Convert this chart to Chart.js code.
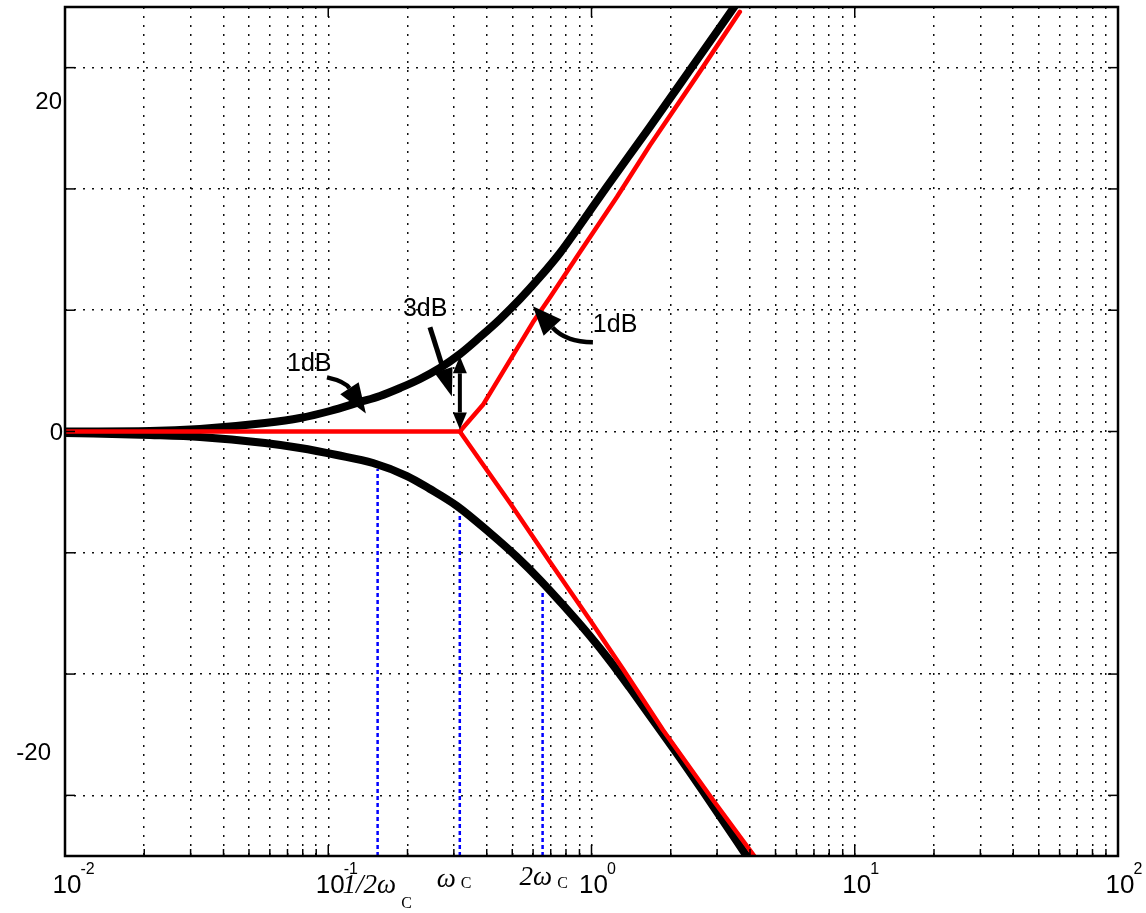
<!DOCTYPE html>
<html><head><meta charset="utf-8">
<script src="https://cdn.jsdelivr.net/npm/chart.js@4/dist/chart.umd.min.js"></script>
<style>html,body{margin:0;padding:0;background:#fff;}canvas{display:block;}</style>
</head><body>
<canvas id="c" width="1146" height="913"></canvas>
<script>
// ---- data (frequency in rad/s, magnitude in dB) ----
const upperFreq = [0.01,0.02103,0.03256,0.05752,0.0781,0.1015,0.132,0.1573,0.1874,0.2232,0.2658,0.3166,0.3771,0.4493,0.5353,0.6375,0.759,0.8886,1.135,1.654,2.409,3.509];
const upperDb   = [0,0.04,0.21,0.70,1.11,1.69,2.43,2.93,3.59,4.33,5.24,6.39,7.79,9.27,10.92,12.74,14.72,16.78,20.08,25.02,30.05,35.1];
const lowerFreq = [0.01,0.02103,0.03256,0.05752,0.0781,0.1079,0.1479,0.1991,0.2435,0.3084,0.4116,0.5212,0.6375,0.7791,0.9869,1.176,1.400,1.743,2.169,2.894,3.931];
const lowerDb   = [-0.12,-0.29,-0.45,-0.95,-1.36,-1.94,-2.60,-3.67,-4.74,-6.14,-8.37,-10.35,-12.24,-14.30,-16.86,-18.92,-21.15,-24.03,-26.92,-30.87,-35.16];
const asymUpFreq = [0.01,0.316,0.387,0.599,0.695,0.903,1.249,1.667,2.513,3.66];
const asymUpDb   = [0,0,2.2,9.0,11.05,14.77,19.33,23.6,29.3,34.6];
const asymLoFreq = [0.316,0.4903,0.6956,0.9869,1.317,1.869,2.894,4.18];
const asymLoDb   = [0,-5.89,-10.76,-15.54,-19.58,-24.61,-30.38,-35.08];
const markerFreq  = [0.154,0.316,0.652];
const markerTopDb = [-3.1,-6.7,-13.1];
const markerLabels = [['1/2\u03C9','C'],['\u03C9','C'],['2\u03C9','C']];
const decadeValues = [0.01,0.1,1,10,100];
const decadeExps   = ['-2','-1','0','1','2'];
const yGridValues  = [-30,-20,-10,0,10,20,30];
const yLabelText   = ['20','0','-20'];
const yLabelDb     = [27.3,0,-26.4];
const noteTexts = [
  {text:'1dB', at:[0.0697,4.96]},
  {text:'3dB', at:[0.1922,9.50]},
  {text:'1dB', at:[1.012,8.18]}
];
const noteArrows = [
  {pts:[[0.0989,4.46],[0.1157,4.13],[0.1390,1.49]]},
  {pts:[[0.2434,8.60],[0.2949,2.89]]},
  {pts:[[0.3162,0.17],[0.3162,6.20]], both:true},
  {pts:[[1.0122,7.36],[0.7994,7.36],[0.5989,10.33]]}
];

// ---- styles ----
const arrowStyles = [
  {lw:4.5, hl:30, hw:22},
  {lw:5, hl:28, hw:19},
  {lw:4, hl:17, hw:14},
  {lw:4.5, hl:29, hw:24}
];
const yLabelGap = [3,2,14];

const zip = (a,b)=>a.map((v,i)=>({x:v,y:b[i]}));
const xTickValues = [];
for (let k=-2;k<=1;k++) for (let m=1;m<=9;m++) xTickValues.push(+(m*Math.pow(10,k)).toPrecision(3));
xTickValues.push(100);

const datasets = [
  {data:zip(upperFreq,upperDb), borderColor:'#000', borderWidth:8, cubicInterpolationMode:'monotone', order:1},
  {data:zip(lowerFreq,lowerDb), borderColor:'#000', borderWidth:8, cubicInterpolationMode:'monotone', order:1},
  {data:zip(asymUpFreq,asymUpDb), borderColor:'#ff0000', borderWidth:4.5, tension:0, order:0},
  {data:zip(asymLoFreq,asymLoDb), borderColor:'#ff0000', borderWidth:4.5, tension:0, order:0}
];
markerFreq.forEach((f,i)=>{
  datasets.push({data:[{x:f,y:-35},{x:f,y:markerTopDb[i]}], borderColor:'#0000ff', borderWidth:2.5, borderDash:[4,3], borderCapStyle:'butt', order:2});
});
datasets.forEach(d=>{ d.pointRadius=0; d.fill=false; if(!d.borderCapStyle) d.borderCapStyle='round'; d.borderJoinStyle='round'; });

function arrow(ctx, P, s, both){
  const head = (tip, prev)=>{
    let dx=tip[0]-prev[0], dy=tip[1]-prev[1]; const L=Math.hypot(dx,dy); dx/=L; dy/=L;
    const base=[tip[0]-dx*s.hl, tip[1]-dy*s.hl];
    ctx.beginPath();
    ctx.moveTo(tip[0],tip[1]);
    ctx.lineTo(base[0]-dy*s.hw/2, base[1]+dx*s.hw/2);
    ctx.lineTo(base[0]+dy*s.hw/2, base[1]-dx*s.hw/2);
    ctx.closePath(); ctx.fill();
    return base;
  };
  const tip=P[P.length-1], prev=P[P.length-2];
  const endBase = head(tip, prev);
  let start = P[0];
  if (both) start = head(P[0], P[1]);
  ctx.lineWidth=s.lw; ctx.lineCap='butt';
  ctx.beginPath(); ctx.moveTo(start[0],start[1]);
  if (P.length===3) ctx.quadraticCurveTo(P[1][0],P[1][1],endBase[0],endBase[1]);
  else ctx.lineTo(endBase[0],endBase[1]);
  ctx.stroke();
}

const overlay = {
  id:'overlay',
  beforeDatasetsDraw(chart){
    const {ctx, chartArea:a, scales:{y}} = chart;
    ctx.save();
    ctx.fillStyle='#000';
    ctx.font='24px "Liberation Sans", Arial, sans-serif';
    ctx.textAlign='right'; ctx.textBaseline='alphabetic';
    yLabelText.forEach((t,i)=>{
      ctx.fillText(t, a.left - yLabelGap[i], y.getPixelForValue(yLabelDb[i]) + 8.6);
    });
    ctx.restore();
  },
  afterDraw(chart){
    const {ctx, chartArea:a, scales:{x,y}} = chart;
    ctx.save();
    ctx.strokeStyle='#000'; ctx.fillStyle='#000';
    // inward tick marks
    ctx.lineWidth=1.5;
    xTickValues.forEach(v=>{
      const px=x.getPixelForValue(v);
      const major = decadeValues.includes(v);
      ctx.beginPath(); ctx.moveTo(px,a.bottom); ctx.lineTo(px,a.bottom-(major?11:7)); ctx.stroke();
      if (major){ ctx.beginPath(); ctx.moveTo(px,a.top); ctx.lineTo(px,a.top+10); ctx.stroke(); }
    });
    yGridValues.forEach(v=>{
      const py=y.getPixelForValue(v);
      ctx.beginPath(); ctx.moveTo(a.left,py); ctx.lineTo(a.left+10,py); ctx.stroke();
      ctx.beginPath(); ctx.moveTo(a.right,py); ctx.lineTo(a.right-10,py); ctx.stroke();
    });
    // box
    ctx.lineWidth=2.5;
    ctx.strokeRect(a.left,a.top,a.right-a.left,a.bottom-a.top);
    // decade labels
    decadeValues.forEach((v,i)=>{
      const px=x.getPixelForValue(v)+2;
      ctx.font='26px "Liberation Sans", Arial, sans-serif';
      ctx.textAlign='center'; ctx.textBaseline='alphabetic';
      ctx.fillText('10', px, a.bottom+37);
      const w=ctx.measureText('10').width;
      ctx.font='16px "Liberation Sans", Arial, sans-serif';
      ctx.textAlign='left';
      ctx.fillText(decadeExps[i], px+w/2-1, a.bottom+18);
    });
    // omega labels
    const omegaShift=[[-35,37,52],[-23,31,32],[-23,29,32]];
    markerFreq.forEach((f,i)=>{
      const px=x.getPixelForValue(f);
      const sh=omegaShift[i];
      ctx.font='italic 27px "Liberation Serif", "Times New Roman", serif';
      ctx.textAlign='left'; ctx.textBaseline='alphabetic';
      ctx.fillText(markerLabels[i][0], px+sh[0], a.bottom+sh[1]);
      const w=ctx.measureText(markerLabels[i][0]).width;
      ctx.font='16px "Liberation Serif", "Times New Roman", serif';
      ctx.fillText(markerLabels[i][1], px+sh[0]+w+5, a.bottom+sh[2]);
    });
    // annotation texts
    ctx.font='25px "Liberation Sans", Arial, sans-serif';
    ctx.textAlign='left'; ctx.textBaseline='alphabetic';
    noteTexts.forEach(n=>{
      ctx.fillText(n.text, x.getPixelForValue(n.at[0]), y.getPixelForValue(n.at[1]));
    });
    // arrows
    noteArrows.forEach((ar,i)=>{
      const P=ar.pts.map(p=>[x.getPixelForValue(p[0]), y.getPixelForValue(p[1])]);
      arrow(ctx,P,arrowStyles[i],ar.both);
    });
    ctx.restore();
  }
};

new Chart(document.getElementById('c'), {
  type:'line',
  data:{datasets},
  options:{
    responsive:false, animation:false, devicePixelRatio:1,
    layout:{padding:{left:65,right:28,top:7,bottom:57}},
    plugins:{legend:{display:false}, tooltip:{enabled:false}},
    scales:{
      x:{type:'logarithmic', min:0.01, max:100,
         afterBuildTicks:s=>{ s.ticks=xTickValues.map(v=>({value:v})); },
         ticks:{display:false},
         grid:{color:'#111', lineWidth:1.5, drawTicks:false},
         border:{display:false, dash:[2,7]}},
      y:{type:'linear', min:-35, max:35,
         afterBuildTicks:s=>{ s.ticks=yGridValues.map(v=>({value:v})); },
         ticks:{display:false},
         grid:{color:'#111', lineWidth:1.5, drawTicks:false},
         border:{display:false, dash:[2,7]}}
    }
  },
  plugins:[overlay]
});
</script>
</body></html>
